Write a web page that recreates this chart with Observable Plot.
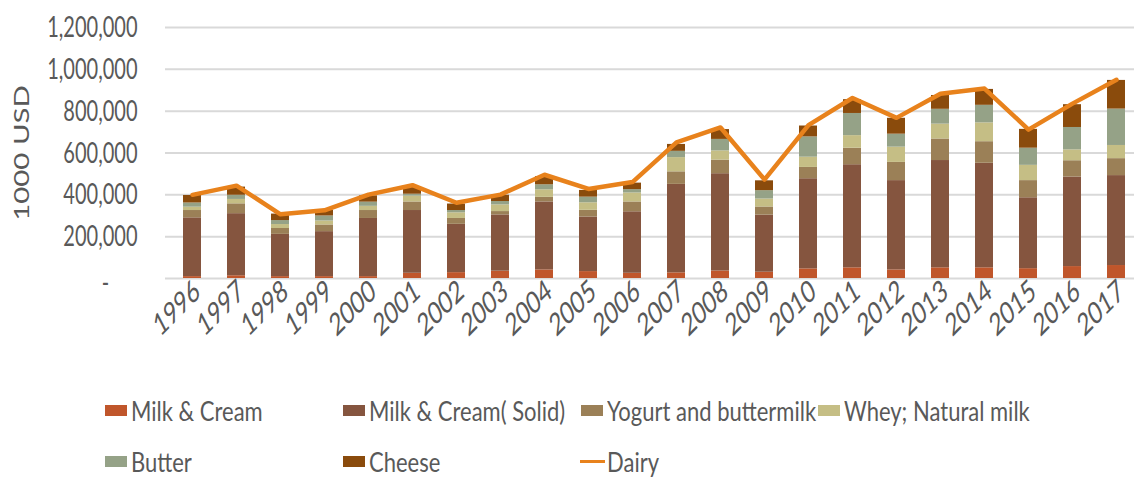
<!DOCTYPE html>
<html><head><meta charset="utf-8">
<script src="https://cdn.jsdelivr.net/npm/d3@7"></script>
<script src="https://cdn.jsdelivr.net/npm/@observablehq/plot@0.6"></script>
<style>
body{margin:0;background:#fff;font-family:Lato,sans-serif;}
#wrap{position:relative;width:1134px;height:477px;overflow:hidden;}
#chart{position:absolute;left:0;top:0;}
.lg{position:absolute;display:flex;align-items:center;height:30px;font-size:22px;color:#595959;white-space:nowrap;}
.sw{width:22px;height:11px;margin-right:4px;flex:none;}
.ln{width:25px;height:3px;margin-right:2px;flex:none;}
.lt{display:inline-block;transform:scaleY(1.22);}
</style></head><body><div id="wrap"><div id="chart"></div><div id="legend"></div></div>
<script>
const years = ["1996","1997","1998","1999","2000","2001","2002","2003","2004","2005","2006","2007","2008","2009","2010","2011","2012","2013","2014","2015","2016","2017"];
const milkCream = [9000,13000,9000,9000,9000,25000,28000,35000,41000,33000,25000,27000,36000,30000,46000,51000,41000,51000,51000,47000,57000,62000];
const milkCreamSolid = [281000,297000,202000,215000,278000,300000,231000,269000,325000,261000,294000,423000,465000,273000,431000,493000,427000,513000,500000,339000,428000,430000];
const yogurt = [35000,47000,28000,32000,38000,41000,28000,16000,22000,32000,47000,60000,65000,39000,54000,79000,87000,103000,103000,82000,78000,81000];
const whey = [16000,21000,19000,19000,20000,28000,27000,32000,36000,36000,43000,68000,44000,38000,49000,60000,73000,71000,90000,73000,52000,63000];
const butter = [20000,20000,19000,24000,20000,9000,11000,16000,24000,27000,16000,30000,55000,40000,97000,106000,62000,71000,84000,82000,107000,174000];
const cheese = [36000,39000,31000,27000,30000,36000,31000,30000,39000,32000,31000,33000,47000,47000,52000,66000,76000,66000,76000,90000,109000,137000];
const dairy = [400000,444000,307000,326000,401000,446000,362000,401000,496000,428000,461000,651000,722000,473000,733000,863000,768000,883000,908000,712000,836000,950000];
const yTicks = [0,200000,400000,600000,800000,1000000,1200000];
const seriesNames = ["Milk & Cream","Milk & Cream( Solid)","Yogurt and buttermilk","Whey; Natural milk","Butter","Cheese"];
const seriesColors = ["#C0562B","#85553F","#9B8057","#C5BE85","#95A287","#8A4B0C"];
const lineName = "Dairy";
const lineColor = "#E8821C";
const yLabel = "1000 USD";

const seriesValues = [milkCream, milkCreamSolid, yogurt, whey, butter, cheese];
const rows = [];
seriesNames.forEach((s, si) => years.forEach((y, i) => rows.push({year: y, series: s, value: seriesValues[si][i]})));
const dairyRows = years.map((y, i) => ({year: y, value: dairy[i]}));
const fmt = d3.format(",");
const txt = {fill: "#595959", fontFamily: "Lato", fontSize: 20};

const svg = Plot.plot({
  width: 1134, height: 370,
  marginLeft: 165, marginRight: 0, marginTop: 27, marginBottom: 92,
  style: {background: "#fff"},
  x: {type: "band", domain: years, range: [151.5, 1157], padding: 0.6, axis: null},
  y: {domain: [0, 1200000], axis: null},
  color: {domain: seriesNames, range: seriesColors},
  marks: [
    Plot.ruleY(yTicks, {stroke: "#d9d9d9", strokeWidth: 2}),
    Plot.barY(rows, {x: "year", y: "value", fill: "series"}),
    Plot.line(dairyRows, {x: "year", y: "value", stroke: lineColor, strokeWidth: 4.5}),
    Plot.text(yTicks, {y: d => d, frameAnchor: "left", dx: -28, textAnchor: "end", text: d => d === 0 ? "" : fmt(d), ...txt}),
    Plot.text([0], {y: d => d, frameAnchor: "left", dx: -60, dy: 5, textAnchor: "middle", text: () => "-", ...txt}),
    Plot.text(years, {x: d => d, frameAnchor: "bottom", text: d => d, rotate: -36, textAnchor: "end", dx: 9, dy: 20, ...txt, fontSize: 22}),
    Plot.text([yLabel], {frameAnchor: "left", dx: -143, rotate: -90, textAnchor: "middle", text: d => d, ...txt, fontSize: 21})
  ]
});
document.getElementById("chart").appendChild(svg);

const K = 1.4;
svg.querySelectorAll("text").forEach(t => {
  const r = t.getBoundingClientRect();
  const m = t.parentNode.getScreenCTM().inverse();
  const p = new DOMPoint(r.x + r.width / 2, r.y + r.height / 2).matrixTransform(m);
  const g = document.createElementNS("http://www.w3.org/2000/svg", "g");
  g.setAttribute("transform", `translate(0,${p.y}) scale(1,${K}) translate(0,${-p.y})`);
  t.parentNode.insertBefore(g, t);
  g.appendChild(t);
});

const legendItems = [
  {name: seriesNames[0], color: seriesColors[0], x: 105, y: 410},
  {name: seriesNames[1], color: seriesColors[1], x: 343, y: 410},
  {name: seriesNames[2], color: seriesColors[2], x: 581, y: 410},
  {name: seriesNames[3], color: seriesColors[3], x: 818, y: 410},
  {name: seriesNames[4], color: seriesColors[4], x: 105, y: 461},
  {name: seriesNames[5], color: seriesColors[5], x: 343, y: 461},
  {name: lineName, color: lineColor, x: 580, y: 461, line: true}
];
const lg = document.getElementById("legend");
legendItems.forEach(it => {
  const d = document.createElement("div");
  d.className = "lg";
  d.style.left = it.x + "px";
  d.style.top = (it.y - 15) + "px";
  const s = document.createElement("span");
  s.className = it.line ? "ln" : "sw";
  s.style.background = it.color;
  const l = document.createElement("span");
  l.className = "lt";
  l.textContent = it.name;
  d.appendChild(s); d.appendChild(l);
  lg.appendChild(d);
});
</script></body></html>
